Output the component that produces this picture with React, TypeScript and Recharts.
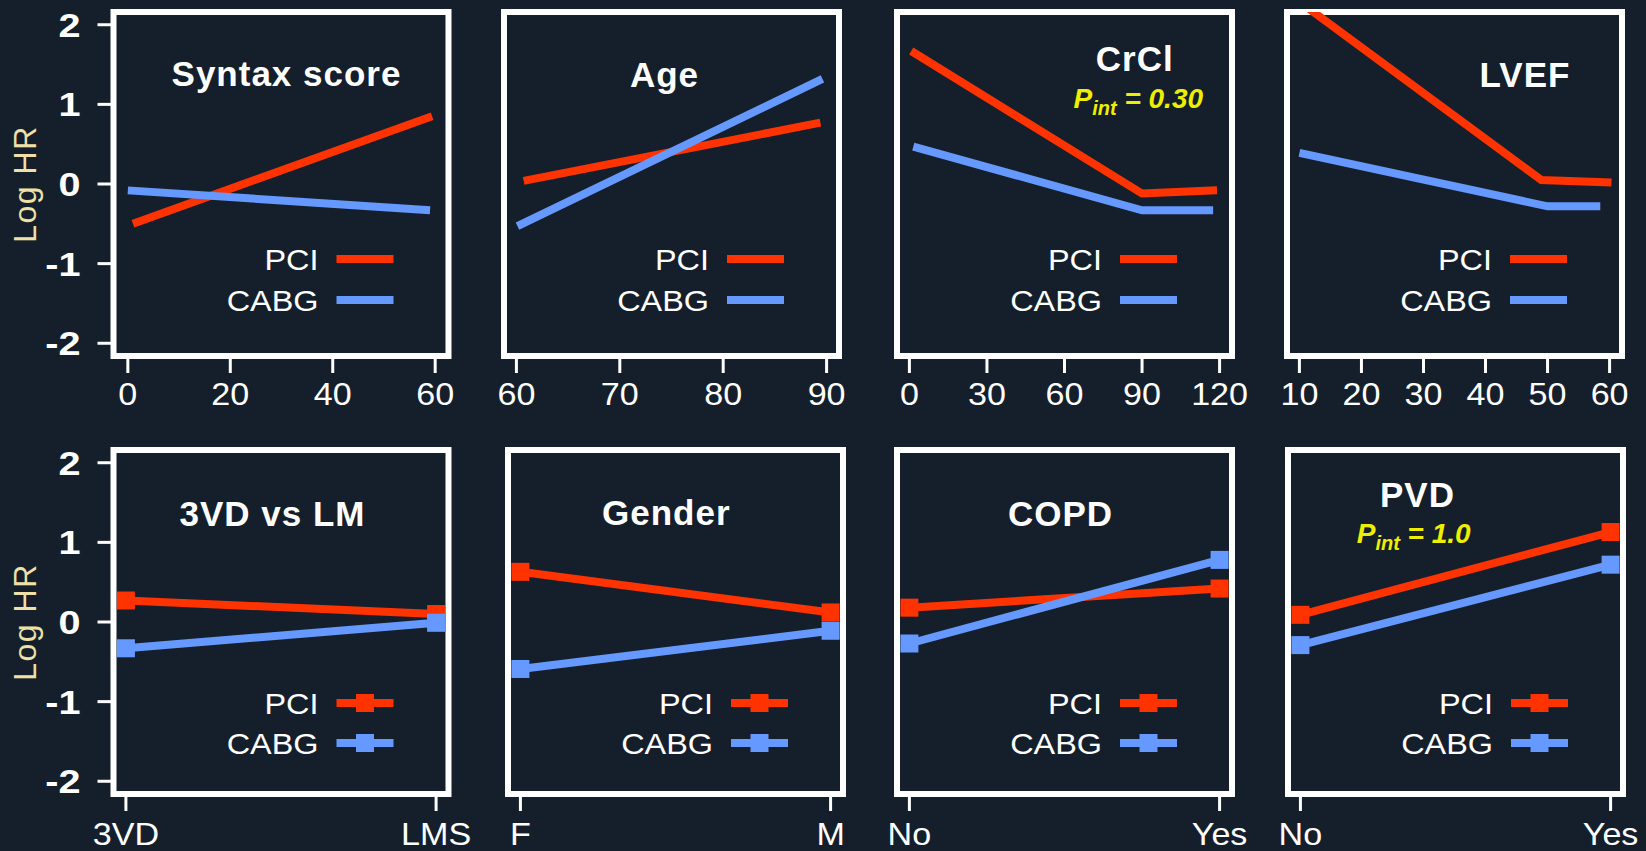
import React from "react";
import { LineChart, Line, XAxis, YAxis, Customized } from "recharts";

const BG = "#151f2c";
const RED = "#ff3300";
const BLUE = "#6699ff";
const YELLOW = "#eeee00";
const FONT = "'Liberation Sans', Arial, Helvetica, sans-serif";

// axis ticks
const logHrTicks = [-2, -1, 0, 1, 2];
const syntaxTicks = [0, 20, 40, 60];
const ageTicks = [60, 70, 80, 90];
const crclTicks = [0, 30, 60, 90, 120];
const lvefTicks = [10, 20, 30, 40, 50, 60];

// continuous covariates, [x, log HR]
const syntaxPCI = [[1, -0.5], [59.4, 0.85]];
const syntaxCABG = [[0, -0.08], [59, -0.33]];
const agePCI = [[60.7, 0.04], [89.4, 0.77]];
const ageCABG = [[60.1, -0.53], [89.6, 1.32]];
const crclPCI = [[0.7, 1.67], [90, -0.12], [119, -0.08]];
const crclCABG = [[1.5, 0.47], [90, -0.33], [117.5, -0.33]];
const lvefPCI = [[10, 2.29], [49, 0.05], [60.3, 0.02]];
const lvefCABG = [[10, 0.39], [50, -0.28], [58.5, -0.28]];

// binary covariates
const lesionCats = ["3VD", "LMS"];
const lesionPCI = [0.27, 0.1];
const lesionCABG = [-0.33, -0.01];
const genderCats = ["F", "M"];
const genderPCI = [0.63, 0.12];
const genderCABG = [-0.59, -0.11];
const noYesCats = ["No", "Yes"];
const copdPCI = [0.18, 0.42];
const copdCABG = [-0.27, 0.78];
const pvdPCI = [0.09, 1.13];
const pvdCABG = [-0.29, 0.72];

const fromPairs = (pts: number[][]) => pts.map(([x, y]) => ({ x, y }));
const fromCats = (vals: number[]) => vals.map((y, i) => ({ x: i + 1, y }));

const PW = 335;
const PH = 344;
const MT = 12;
const MR = 40;
const Y_DOMAIN = [-2.16, 2.16];

type Panel = {
  title: string;
  plotLeft: number;
  plotTop: number;
  xDomain: number[];
  ticks: number[];
  cats?: string[];
  pci: { x: number; y: number }[];
  cabg: { x: number; y: number }[];
  markers: boolean;
  yAxis: boolean;
  titleX: number;
  titleY: number;
  legendY: number[];
  tickMargin: number;
  pint?: { text: string; x: number; y: number };
};

const panels: Panel[] = [
  {
    title: "Syntax score", plotLeft: 113.5, plotTop: 12, xDomain: [-2.8, 62.6], ticks: syntaxTicks,
    pci: fromPairs(syntaxPCI), cabg: fromPairs(syntaxCABG), markers: false, yAxis: true,
    titleX: 173, titleY: 74, legendY: [247, 288], tickMargin: 10,
  },
  {
    title: "Age", plotLeft: 503.5, plotTop: 12, xDomain: [58.8, 91.2], ticks: ageTicks,
    pci: fromPairs(agePCI), cabg: fromPairs(ageCABG), markers: false, yAxis: false,
    titleX: 160.5, titleY: 75, legendY: [247, 288], tickMargin: 10,
  },
  {
    title: "CrCl", plotLeft: 896.5, plotTop: 12, xDomain: [-4.8, 124.8], ticks: crclTicks,
    pci: fromPairs(crclPCI), cabg: fromPairs(crclCABG), markers: false, yAxis: false,
    titleX: 237.7, titleY: 59, legendY: [247, 288], tickMargin: 10,
    pint: { text: "0.30", x: 176.5, y: 96 },
  },
  {
    title: "LVEF", plotLeft: 1287, plotTop: 12, xDomain: [8, 62], ticks: lvefTicks,
    pci: fromPairs(lvefPCI), cabg: fromPairs(lvefCABG), markers: false, yAxis: false,
    titleX: 238, titleY: 75, legendY: [247, 288], tickMargin: 10,
  },
  {
    title: "3VD vs LM", plotLeft: 113.5, plotTop: 450, xDomain: [0.96, 2.04], ticks: [1, 2], cats: lesionCats,
    pci: fromCats(lesionPCI), cabg: fromCats(lesionCABG), markers: true, yAxis: true,
    titleX: 159, titleY: 76, legendY: [253, 293], tickMargin: 12,
  },
  {
    title: "Gender", plotLeft: 507.5, plotTop: 450, xDomain: [0.96, 2.04], ticks: [1, 2], cats: genderCats,
    pci: fromCats(genderPCI), cabg: fromCats(genderCABG), markers: true, yAxis: false,
    titleX: 158.3, titleY: 75, legendY: [253, 293], tickMargin: 12,
  },
  {
    title: "COPD", plotLeft: 896.5, plotTop: 450, xDomain: [0.96, 2.04], ticks: [1, 2], cats: noYesCats,
    pci: fromCats(copdPCI), cabg: fromCats(copdCABG), markers: true, yAxis: false,
    titleX: 163.5, titleY: 76, legendY: [253, 293], tickMargin: 12,
  },
  {
    title: "PVD", plotLeft: 1288, plotTop: 450, xDomain: [0.96, 2.04], ticks: [1, 2], cats: noYesCats,
    pci: fromCats(pvdPCI), cabg: fromCats(pvdCABG), markers: true, yAxis: false,
    titleX: 129.5, titleY: 57, legendY: [253, 293], tickMargin: 12,
    pint: { text: "1.0", x: 68.7, y: 93.3 },
  },
];

const square = (color: string) => (props: any) => {
  const { cx, cy, index } = props;
  if (cx == null || cy == null) return <g key={`e-${index}`} />;
  return <rect key={`sq-${index}`} x={cx - 9} y={cy - 9} width={18} height={18} fill={color} />;
};

// x tick label, slightly widened like the original export
const XTick = (props: any) => {
  const { x, y, payload, cats } = props;
  const label = cats ? cats[payload.value - 1] : String(payload.value);
  return (
    <g transform={`translate(${x},${y})`}>
      <text transform="scale(1.1,1)" textAnchor="middle" dy="0.71em" fill="#ffffff" fontSize={31} fontFamily={FONT}>
        {label}
      </text>
    </g>
  );
};

const YTick = (props: any) => {
  const { x, y, payload } = props;
  return (
    <g transform={`translate(${x},${y})`}>
      <text transform="scale(1.2,1)" textAnchor="end" dy="0.36em" fill="#ffffff" fontSize={33} fontWeight={700} fontFamily={FONT}>
        {payload.value}
      </text>
    </g>
  );
};

const Overlay = ({ p, ml }: { p: Panel; ml: number }) => {
  const right = ml + PW;
  const entries = [
    { name: "PCI", color: RED, y: MT + p.legendY[0] },
    { name: "CABG", color: BLUE, y: MT + p.legendY[1] },
  ];
  const lx = ml - 88.5;
  const ly = MT + PH / 2;
  return (
    <g fontFamily={FONT}>
      <rect x={ml} y={MT} width={PW} height={PH} fill="none" stroke="#ffffff" strokeWidth={6} />
      {p.yAxis && (
        <text
          x={lx}
          y={ly}
          transform={`rotate(-90 ${lx} ${ly})`}
          textAnchor="middle"
          dominantBaseline="central"
          fill="#eee0a6"
          fontSize={32}
          letterSpacing={1.5}
        >
          Log HR
        </text>
      )}
      <text
        x={ml + p.titleX}
        y={MT + p.titleY}
        textAnchor="middle"
        fill="#ffffff"
        fontSize={35}
        fontWeight={700}
        letterSpacing={1}
      >
        {p.title}
      </text>
      {p.pint && (
        <text
          x={ml + p.pint.x}
          y={MT + p.pint.y}
          fill={YELLOW}
          fontSize={28}
          fontWeight={700}
          fontStyle="italic"
        >
          <tspan>P</tspan>
          <tspan fontSize={20} dy={7}>int</tspan>
          <tspan dy={-7}>{` = ${p.pint.text}`}</tspan>
        </text>
      )}
      {entries.map((e) => (
        <g key={e.name}>
          <g transform={`translate(${right - 130},${e.y + 11})`}>
            <text transform="scale(1.08,1)" textAnchor="end" fill="#ffffff" fontSize={30}>
              {e.name}
            </text>
          </g>
          <line x1={right - 112} x2={right - 55} y1={e.y} y2={e.y} stroke={e.color} strokeWidth={8} />
          {p.markers && <rect x={right - 92.5} y={e.y - 9} width={18} height={18} fill={e.color} />}
        </g>
      ))}
    </g>
  );
};

const PanelChart = ({ p }: { p: Panel }) => {
  const ml = p.yAxis ? 113.5 : 20;
  const width = ml + PW + MR;
  const height = MT + PH + 60;
  return (
    <div style={{ position: "absolute", left: p.plotLeft - ml, top: p.plotTop - MT, width, height }}>
      <LineChart width={width} height={height} margin={{ top: MT, right: MR, bottom: 0, left: p.yAxis ? 13.5 : 20 }}>
        <XAxis
          dataKey="x"
          type="number"
          domain={p.xDomain}
          ticks={p.ticks}
          allowDataOverflow
          interval={0}
          height={60}
          axisLine={false}
          tickLine={{ stroke: "#ffffff", strokeWidth: 3 }}
          tickSize={17}
          tickMargin={p.tickMargin}
          tick={<XTick cats={p.cats} />}
        />
        <YAxis
          type="number"
          domain={Y_DOMAIN}
          ticks={logHrTicks}
          allowDataOverflow
          hide={!p.yAxis}
          width={100}
          interval={0}
          axisLine={false}
          tickLine={{ stroke: "#ffffff", strokeWidth: 3 }}
          tickSize={16}
          tickMargin={17}
          tick={<YTick />}
        />
        <Line
          data={p.pci}
          dataKey="y"
          type="linear"
          stroke={RED}
          strokeWidth={8}
          dot={p.markers ? square(RED) : false}
          activeDot={false}
          isAnimationActive={false}
        />
        <Line
          data={p.cabg}
          dataKey="y"
          type="linear"
          stroke={BLUE}
          strokeWidth={8}
          dot={p.markers ? square(BLUE) : false}
          activeDot={false}
          isAnimationActive={false}
        />
        <Customized component={<Overlay p={p} ml={ml} />} />
      </LineChart>
    </div>
  );
};

export default function App() {
  return (
    <div
      style={{
        position: "absolute",
        left: 0,
        top: 0,
        width: 1646,
        height: 851,
        overflow: "hidden",
        background: BG,
        fontFamily: FONT,
      }}
    >
      {panels.map((p) => (
        <PanelChart key={p.title} p={p} />
      ))}
    </div>
  );
}
